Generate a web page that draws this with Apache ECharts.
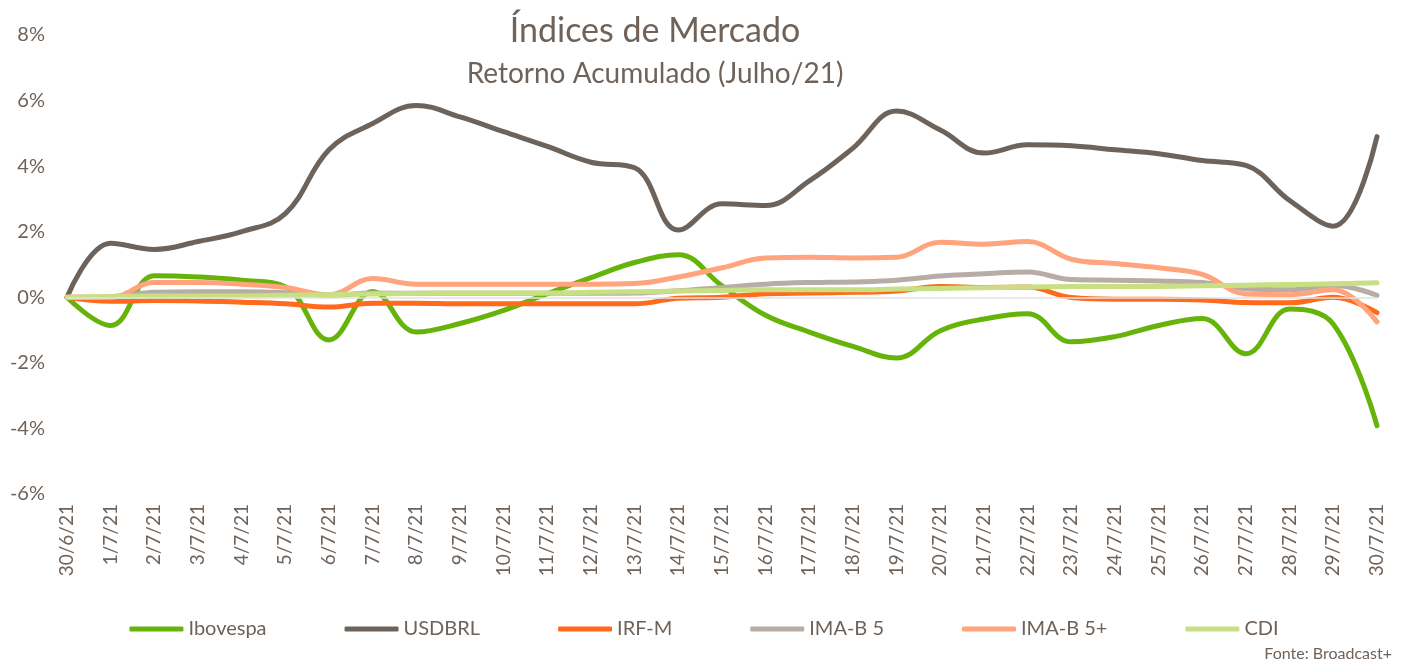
<!DOCTYPE html>
<html>
<head>
<meta charset="utf-8">
<title>Índices de Mercado</title>
<script src="https://cdn.jsdelivr.net/npm/echarts@6/dist/echarts.min.js"></script>
<style>
  html, body { margin: 0; padding: 0; background: #fff; }
  #main { width: 1408px; height: 661px; }
</style>
</head>
<body>
<div id="main"></div>
<script>
// datas (eixo x)
var datas = ['30/6/21','1/7/21','2/7/21','3/7/21','4/7/21','5/7/21','6/7/21','7/7/21','8/7/21','9/7/21',
  '10/7/21','11/7/21','12/7/21','13/7/21','14/7/21','15/7/21','16/7/21','17/7/21','18/7/21','19/7/21',
  '20/7/21','21/7/21','22/7/21','23/7/21','24/7/21','25/7/21','26/7/21','27/7/21','28/7/21','29/7/21','30/7/21'];

// retorno acumulado em %
var ibovespa = [0,-0.86,0.66,0.62,0.52,0.32,-1.3,0.18,-1.06,-0.8,
  -0.4,0.11,0.6,1.06,1.3,0.35,-0.55,-1.06,-1.5,-1.85,
  -1.02,-0.66,-0.5,-1.36,-1.2,-0.86,-0.65,-1.72,-0.36,-0.82,-3.92];
var usdbrl = [0,1.65,1.46,1.7,2.0,2.55,4.5,5.3,5.85,5.5,
  5.05,4.6,4.12,3.95,2.05,2.85,2.8,3.55,4.55,5.68,
  5.1,4.4,4.65,4.62,4.5,4.38,4.17,4.02,2.95,2.17,4.9];
var irfm = [0,-0.12,-0.1,-0.11,-0.15,-0.2,-0.3,-0.18,-0.18,-0.2,
  -0.2,-0.2,-0.2,-0.2,-0.03,0.0,0.11,0.13,0.15,0.19,
  0.33,0.3,0.31,-0.01,-0.06,-0.06,-0.08,-0.16,-0.17,0.0,-0.47];
var imab5 = [0,0.02,0.15,0.17,0.17,0.14,0.05,0.13,0.12,0.12,
  0.12,0.12,0.12,0.13,0.2,0.3,0.4,0.45,0.47,0.52,
  0.65,0.72,0.77,0.54,0.52,0.5,0.45,0.26,0.23,0.37,0.06];
var imab5mais = [0,0.0,0.45,0.45,0.4,0.3,0.08,0.57,0.4,0.4,
  0.4,0.4,0.4,0.42,0.62,0.9,1.2,1.22,1.2,1.22,
  1.68,1.62,1.7,1.16,1.03,0.9,0.7,0.1,0.08,0.23,-0.75];
var cdi = [0,0.02,0.04,0.04,0.04,0.06,0.08,0.1,0.12,0.13,
  0.13,0.13,0.15,0.17,0.19,0.21,0.23,0.23,0.23,0.25,
  0.27,0.29,0.31,0.33,0.33,0.33,0.35,0.37,0.39,0.41,0.44];

var corTexto = '#6f6259';
var fonte = 'Lato';

function serie(nome, dados, cor) {
  return {
    name: nome,
    type: 'line',
    data: dados,
    smooth: 0.4,
    symbol: 'none',
    lineStyle: { color: cor, width: 5, cap: 'round', join: 'round' },
    itemStyle: { color: cor }
  };
}

var series = [
  serie('Ibovespa', ibovespa, '#66b30a'),
  serie('USDBRL', usdbrl, '#6e635a'),
  serie('IRF-M', irfm, '#ff6a1c'),
  serie('IMA-B 5', imab5, '#b8ada4'),
  serie('IMA-B 5+', imab5mais, '#ffa47c'),
  serie('CDI', cdi, '#c9df83')
];
// linha do zero
series[0].markLine = {
  silent: true,
  symbol: 'none',
  label: { show: false },
  lineStyle: { color: '#e3e3e3', width: 1.5, type: 'solid' },
  data: [{ yAxis: 0 }]
};

var option = {
  backgroundColor: '#fff',
  animation: false,
  textStyle: { fontFamily: fonte },
  title: [{
    text: 'Índices de Mercado',
    left: 650, top: 9, textAlign: 'center',
    textStyle: { fontFamily: fonte, fontSize: 34, fontWeight: 'normal', color: corTexto }
  }, {
    text: 'Retorno Acumulado (Julho/21)',
    left: 650, top: 55, textAlign: 'center',
    textStyle: { fontFamily: fonte, fontSize: 28, fontWeight: 'normal', color: corTexto }
  }, {
    text: 'Fonte: Broadcast+',
    right: 11, top: 641,
    textStyle: { fontFamily: fonte, fontSize: 16, fontWeight: 'normal', color: corTexto }
  }],
  legend: {
    left: 'center',
    top: 614,
    icon: 'roundRect',
    itemWidth: 54,
    itemHeight: 5,
    itemGap: 78,
    textStyle: { fontFamily: fonte, fontSize: 20, color: corTexto, padding: [0, 0, 0, 0] },
    data: ['Ibovespa', 'USDBRL', 'IRF-M', 'IMA-B 5', 'IMA-B 5+', 'CDI']
  },
  grid: { left: 67, right: 31, top: 35, bottom: 167 },
  xAxis: {
    type: 'category',
    boundaryGap: false,
    data: datas,
    axisLine: { show: false },
    axisTick: { show: false },
    axisLabel: { rotate: 90, interval: 0, margin: 10, fontSize: 19, fontFamily: fonte, color: corTexto }
  },
  yAxis: {
    type: 'value',
    min: -6, max: 8, interval: 2,
    axisLine: { show: false },
    axisTick: { show: false },
    splitLine: { show: false },
    axisLabel: { formatter: '{value}%', margin: 22, fontSize: 20, fontFamily: fonte, color: corTexto }
  },
  series: series
};

var myChart = echarts.init(document.getElementById('main'));
myChart.setOption(option);
</script>
</body>
</html>
